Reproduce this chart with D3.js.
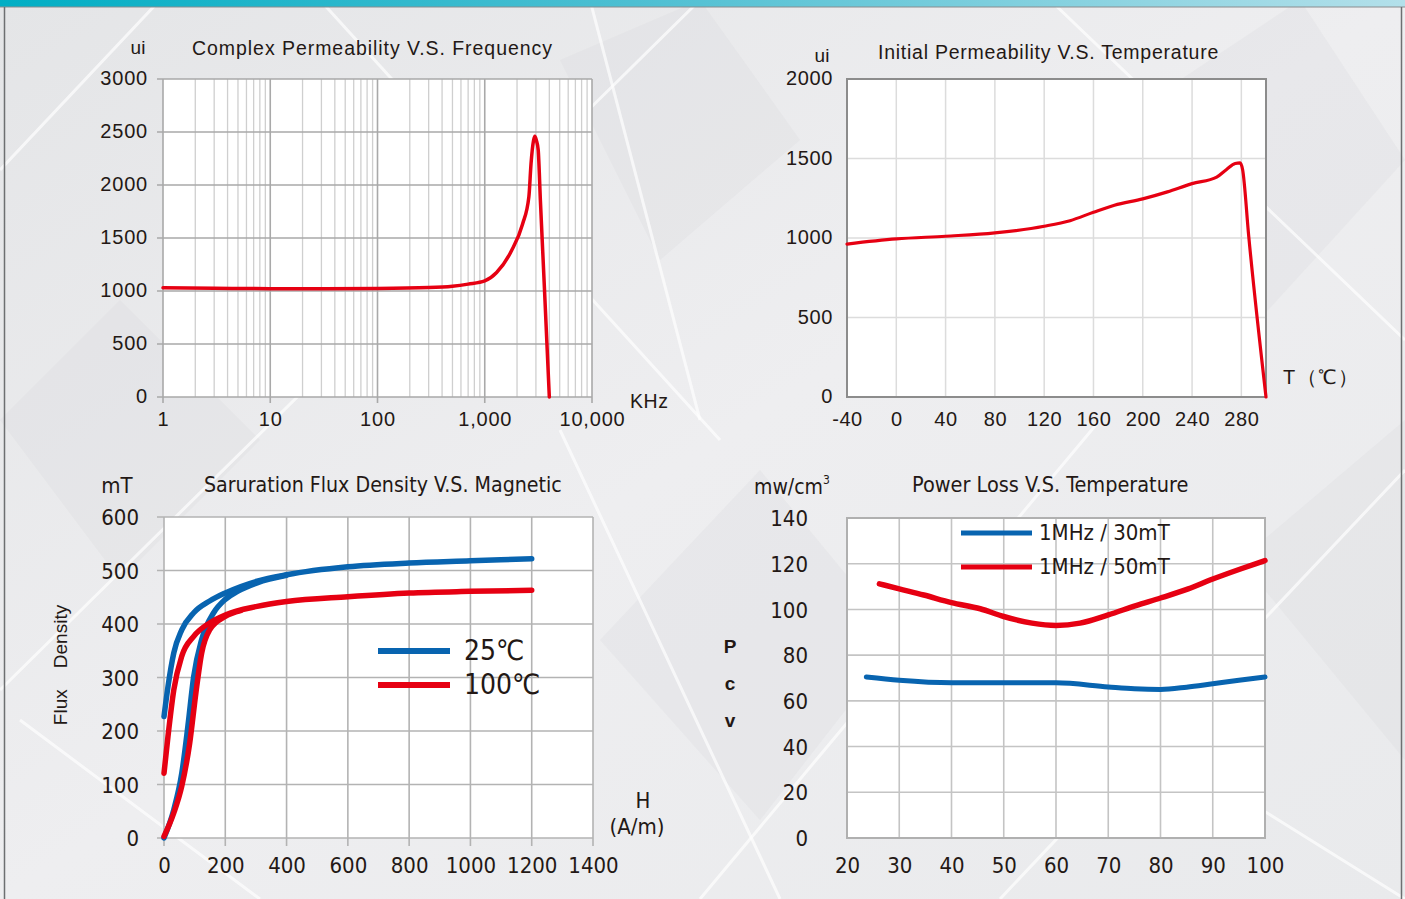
<!DOCTYPE html>
<html>

<head>
    <title>Ferrite Material Curves</title>
    <script src="https://d3js.org/d3.v7.min.js"></script>
    <style>
        body {
            margin: 0;
            background: #e9eaec;
        }

        .wide {
            font-family: "Liberation Sans", Arial, sans-serif;
            fill: #231815;
        }

        .narrow {
            font-family: "Liberation Sans Narrow", "Arial Narrow", "DejaVu Sans Condensed", sans-serif;
            fill: #231815;
        }

        .line {
            fill: none;
            stroke-linecap: round;
            stroke-linejoin: round;
        }
    </style>
</head>

<body>
    <script>
        var w = 1405;
        var h = 899;

        var red = "#e60012";
        var blue = "#0864b0";

        // Complex permeability vs frequency (KHz)
        var freqKHz = [1, 3, 10, 30, 100, 300, 500, 700, 1000, 1290, 1775, 2250, 2580, 2700, 2850, 2930, 3030, 3150, 3300, 3600, 4000];
        var freqUi = [1030, 1026, 1022, 1022, 1024, 1032, 1045, 1065, 1095, 1174, 1380, 1630, 1890, 2200, 2420, 2460, 2420, 2330, 1860, 1030, 0];
        var freqTicks = [1, 10, 100, 1000, 10000];
        var freqTickLabels = ["1", "10", "100", "1,000", "10,000"];

        // Initial permeability vs temperature
        var tempC = [-40, 0, 40, 80, 120, 141, 160, 177, 200, 220, 240, 260, 268, 275, 279, 281, 286, 300];
        var tempUi = [962, 994, 1011, 1032, 1074, 1109, 1162, 1206, 1246, 1290, 1342, 1383, 1431, 1469, 1473, 1431, 1010, 0];
        var tempTicks = [-40, 0, 40, 80, 120, 160, 200, 240, 280];

        // Saturation flux density vs H (A/m)
        var hUpper = [0, 13, 32, 58, 97, 149, 200, 304, 400, 600, 800, 1000, 1200];
        var b25Upper = [227, 283, 346, 389, 421, 443, 458, 480, 492, 507, 514, 518, 522];
        var b100Upper = [121, 190, 277, 340, 377, 402, 417, 433, 442, 451, 458, 461, 463];
        var h25Lower = [0, 32, 58, 78, 97, 123, 162, 200, 240, 304, 400];
        var b25Lower = [0, 53, 121, 209, 302, 371, 421, 446, 461, 477, 491];
        var h100Lower = [0, 32, 58, 84, 104, 123, 149, 200, 250];
        var b100Lower = [3, 47, 97, 178, 271, 346, 389, 414, 425];

        // Power loss vs temperature
        var plTemp30 = [23.7, 30, 40, 50, 60, 70, 75, 80, 85, 90, 95, 100];
        var pl30 = [70.4, 69, 67.9, 67.9, 67.9, 66.1, 65.3, 65, 66, 67.5, 69, 70.4];
        var plTemp50 = [26.2, 30, 34.7, 40, 45.5, 50, 55.4, 60, 64.6, 70, 75.3, 80, 85.3, 90, 95.3, 100];
        var pl50 = [111.2, 109, 106.3, 103, 100.3, 96.9, 94, 93, 94, 97.6, 101.7, 105, 109, 113.3, 117.7, 121.4];

        function zip(xs, ys) {
            return xs.map(function (x, i) { return { x: x, y: ys[i] }; });
        }

        var svg = d3.select("body").append("svg")
            .attr("width", w)
            .attr("height", h);

        // ---------- background ----------
        var defs = svg.append("defs");
        var bg = defs.append("linearGradient").attr("id", "bg")
            .attr("x1", 0).attr("y1", 0).attr("x2", 1).attr("y2", 1);
        bg.append("stop").attr("offset", 0).attr("stop-color", "#e4e5e7");
        bg.append("stop").attr("offset", 0.5).attr("stop-color", "#eeeef0");
        bg.append("stop").attr("offset", 1).attr("stop-color", "#e9eaec");
        var bar = defs.append("linearGradient").attr("id", "bar");
        bar.append("stop").attr("offset", 0).attr("stop-color", "#00aec4");
        bar.append("stop").attr("offset", 0.45).attr("stop-color", "#4dbfd2");
        bar.append("stop").attr("offset", 1).attr("stop-color", "#b3e0ea");

        svg.append("rect").attr("width", w).attr("height", h).attr("fill", "url(#bg)");

        // faint diamond shapes
        var shades = [
            [[0, 420], [120, 300], [260, 440], [120, 580]],
            [[560, 60], [700, 0], [800, 140], [660, 260]],
            [[1120, 120], [1300, 0], [1405, 160], [1250, 330]],
            [[600, 640], [760, 470], [900, 640], [760, 820]],
            [[1240, 560], [1405, 420], [1405, 760]]
        ];
        svg.selectAll(".shade").data(shades).enter().append("polygon")
            .attr("points", function (d) { return d.map(function (p) { return p.join(","); }).join(" "); })
            .attr("fill", "#d6d8db").attr("opacity", 0.25);

        var streaks = [
            [[0, 170], [160, 0]], [[0, 690], [700, 0]], [[320, 0], [720, 440]],
            [[590, 0], [700, 420]], [[20, 720], [260, 899]], [[700, 899], [1100, 420]],
            [[1050, 0], [1405, 340]], [[1405, 470], [1000, 899]], [[1150, 740], [1405, 899]],
            [[560, 430], [780, 899]]
        ];
        svg.selectAll(".streak").data(streaks).enter().append("line")
            .attr("x1", function (d) { return d[0][0]; }).attr("y1", function (d) { return d[0][1]; })
            .attr("x2", function (d) { return d[1][0]; }).attr("y2", function (d) { return d[1][1]; })
            .attr("stroke", "#ffffff").attr("stroke-width", 3).attr("opacity", 0.7);

        svg.append("rect").attr("width", w).attr("height", 7).attr("fill", "url(#bar)");
        svg.append("line").attr("x1", 0).attr("x2", w).attr("y1", 7).attr("y2", 7)
            .attr("stroke", "#8a8c8e").attr("stroke-width", 1);
        svg.append("line").attr("x1", 4.5).attr("x2", 4.5).attr("y1", 7).attr("y2", h)
            .attr("stroke", "#6d6f71").attr("stroke-width", 1.5);
        svg.append("line").attr("x1", 1401.5).attr("x2", 1401.5).attr("y1", 7).attr("y2", h)
            .attr("stroke", "#6d6f71").attr("stroke-width", 1.5);

        function label(g, cls, x, y, txt, size, anchor) {
            return g.append("text").attr("class", cls)
                .attr("x", x).attr("y", y)
                .attr("font-size", size)
                .attr("text-anchor", anchor || "start")
                .attr("dominant-baseline", "middle")
                .text(txt);
        }

        // ---------- chart 1: complex permeability vs frequency ----------
        (function () {
            var g = svg.append("g");
            var x = d3.scaleLog().domain([1, 10000]).range([163, 592]);
            var y = d3.scaleLinear().domain([0, 3000]).range([397, 79]);

            g.append("rect").attr("x", 163).attr("y", 79).attr("width", 429).attr("height", 318).attr("fill", "#fff");

            var minors = [];
            for (var k = 0; k < 4; k++) {
                for (var m = 2; m <= 9; m++) minors.push(m * Math.pow(10, k));
            }
            g.selectAll(".minor").data(minors).enter().append("line")
                .attr("x1", function (d) { return x(d); }).attr("x2", function (d) { return x(d); })
                .attr("y1", 79).attr("y2", 397)
                .attr("stroke", "#cfcfcf").attr("stroke-width", 1.3);
            g.selectAll(".major").data(freqTicks).enter().append("line")
                .attr("x1", function (d) { return x(d); }).attr("x2", function (d) { return x(d); })
                .attr("y1", 79).attr("y2", 403)
                .attr("stroke", "#a9a9a9").attr("stroke-width", 1.6);
            g.selectAll(".hgrid").data(d3.range(0, 3001, 500)).enter().append("line")
                .attr("x1", 157).attr("x2", 592)
                .attr("y1", function (d) { return y(d); }).attr("y2", function (d) { return y(d); })
                .attr("stroke", "#a9a9a9").attr("stroke-width", 1.6);

            var line = d3.line().curve(d3.curveMonotoneX)
                .x(function (d) { return x(d.x); }).y(function (d) { return y(d.y); });
            g.append("path").attr("class", "line").attr("d", line(zip(freqKHz, freqUi)))
                .attr("stroke", red).attr("stroke-width", 3.5);

            g.append("g").attr("transform", "translate(0,419)")
                .call(d3.axisBottom(x).tickValues(freqTicks).tickSize(0)
                    .tickFormat(function (d, i) { return freqTickLabels[i]; }))
                .call(function (a) { a.select(".domain").remove(); })
                .selectAll("text").attr("class", "wide").attr("font-size", 20).attr("letter-spacing", 0.8)
                .attr("dy", "0.35em").attr("y", 0);
            g.append("g").attr("transform", "translate(148,0)")
                .call(d3.axisLeft(y).tickValues(d3.range(0, 3001, 500)).tickSize(0).tickFormat(d3.format("d")))
                .call(function (a) { a.select(".domain").remove(); })
                .selectAll("text").attr("class", "wide").attr("font-size", 20).attr("letter-spacing", 0.8)
                .attr("x", 0).attr("dy", "0.28em");

            label(g, "wide", 138, 49, "ui", 19, "middle");
            label(g, "wide", 192, 50, "Complex Permeability V.S. Frequency", 19.5).attr("letter-spacing", 0.95);
            label(g, "wide", 630, 403, "KHz", 19.5).attr("letter-spacing", 0.6);
        })();

        // ---------- chart 2: initial permeability vs temperature ----------
        (function () {
            var g = svg.append("g");
            var x = d3.scaleLinear().domain([-40, 300]).range([847, 1266]);
            var y = d3.scaleLinear().domain([0, 2000]).range([397, 79]);

            g.append("rect").attr("x", 847).attr("y", 79).attr("width", 419).attr("height", 318).attr("fill", "#fff");
            g.selectAll(".vg").data(tempTicks.slice(1)).enter().append("line")
                .attr("x1", function (d) { return x(d); }).attr("x2", function (d) { return x(d); })
                .attr("y1", 79).attr("y2", 397)
                .attr("stroke", "#dcdcdc").attr("stroke-width", 1.5);
            g.selectAll(".hg").data([500, 1000, 1500]).enter().append("line")
                .attr("x1", 847).attr("x2", 1266)
                .attr("y1", function (d) { return y(d); }).attr("y2", function (d) { return y(d); })
                .attr("stroke", "#dcdcdc").attr("stroke-width", 1.5);
            g.append("rect").attr("x", 847).attr("y", 79).attr("width", 419).attr("height", 318)
                .attr("fill", "none").attr("stroke", "#8c8c8c").attr("stroke-width", 2);

            var line = d3.line().curve(d3.curveMonotoneX)
                .x(function (d) { return x(d.x); }).y(function (d) { return y(d.y); });
            g.append("path").attr("class", "line").attr("d", line(zip(tempC, tempUi)))
                .attr("stroke", red).attr("stroke-width", 3.2);

            g.append("g").attr("transform", "translate(0,419)")
                .call(d3.axisBottom(x).tickValues(tempTicks).tickSize(0).tickFormat(function (d) { return String(d); }))
                .call(function (a) { a.select(".domain").remove(); })
                .selectAll("text").attr("class", "wide").attr("font-size", 20).attr("letter-spacing", 0.6)
                .attr("dy", "0.35em").attr("y", 0);
            g.append("g").attr("transform", "translate(833,0)")
                .call(d3.axisLeft(y).tickValues([0, 500, 1000, 1500, 2000]).tickSize(0).tickFormat(d3.format("d")))
                .call(function (a) { a.select(".domain").remove(); })
                .selectAll("text").attr("class", "wide").attr("font-size", 20).attr("letter-spacing", 0.6)
                .attr("x", 0).attr("dy", "0.28em");

            label(g, "wide", 822, 57, "ui", 19, "middle");
            label(g, "wide", 878, 54, "Initial Permeability V.S. Temperature", 19.5).attr("letter-spacing", 0.75);
            label(g, "wide", 1283, 379, "T（℃）", 20).attr("letter-spacing", 1.5);
        })();

        // ---------- chart 3: saturation flux density ----------
        (function () {
            var g = svg.append("g");
            var x = d3.scaleLinear().domain([0, 1400]).range([164, 593]);
            var y = d3.scaleLinear().domain([0, 600]).range([838, 517]);

            g.append("rect").attr("x", 164).attr("y", 517).attr("width", 429).attr("height", 321).attr("fill", "#fff");
            g.selectAll(".vg").data(d3.range(0, 1401, 200)).enter().append("line")
                .attr("x1", function (d) { return x(d); }).attr("x2", function (d) { return x(d); })
                .attr("y1", 517).attr("y2", 846)
                .attr("stroke", "#b3b3b3").attr("stroke-width", 1.6);
            g.selectAll(".hg").data(d3.range(0, 601, 100)).enter().append("line")
                .attr("x1", 157).attr("x2", 593)
                .attr("y1", function (d) { return y(d); }).attr("y2", function (d) { return y(d); })
                .attr("stroke", "#b3b3b3").attr("stroke-width", 1.6);

            var line = d3.line().curve(d3.curveMonotoneX)
                .x(function (d) { return x(d.x); }).y(function (d) { return y(d.y); });
            [[hUpper, b25Upper, blue], [h25Lower, b25Lower, blue], [hUpper, b100Upper, red], [h100Lower, b100Lower, red]]
                .forEach(function (s) {
                    g.append("path").attr("class", "line").attr("d", line(zip(s[0], s[1])))
                        .attr("stroke", s[2]).attr("stroke-width", 5.5);
                });

            g.append("g").attr("transform", "translate(0,865)")
                .call(d3.axisBottom(x).tickValues(d3.range(0, 1401, 200)).tickSize(0).tickFormat(d3.format("d")))
                .call(function (a) { a.select(".domain").remove(); })
                .selectAll("text").attr("class", "narrow").attr("font-size", 22).attr("dy", "0.35em").attr("y", 0);
            g.append("g").attr("transform", "translate(139,0)")
                .call(d3.axisLeft(y).tickValues(d3.range(0, 601, 100)).tickSize(0))
                .call(function (a) { a.select(".domain").remove(); })
                .selectAll("text").attr("class", "narrow").attr("font-size", 22).attr("x", 0).attr("dy", "0.35em");

            label(g, "narrow", 117, 487, "mT", 22, "middle");
            label(g, "narrow", 204, 486, "Saruration Flux Density V.S. Magnetic", 21.2);
            label(g, "narrow", 643, 802, "H", 22, "middle");
            label(g, "narrow", 637, 828, "(A/m)", 22, "middle");
            g.append("text").attr("class", "wide")
                .attr("font-family", "'Open Sans', 'Noto Sans', sans-serif")
                .attr("transform", "translate(62,665) rotate(-90)")
                .attr("text-anchor", "middle").attr("dominant-baseline", "middle")
                .attr("font-size", 19).attr("xml:space", "preserve")
                .text("Flux    Density");

            var legend = [["25℃", blue, 651], ["100℃", red, 685]];
            legend.forEach(function (d) {
                g.append("line").attr("x1", 378).attr("x2", 450).attr("y1", d[2]).attr("y2", d[2])
                    .attr("stroke", d[1]).attr("stroke-width", 6);
                label(g, "narrow", 464, d[2] + 1, d[0], 28);
            });
        })();

        // ---------- chart 4: power loss vs temperature ----------
        (function () {
            var g = svg.append("g");
            var x = d3.scaleLinear().domain([20, 100]).range([847, 1265]);
            var y = d3.scaleLinear().domain([0, 140]).range([838, 518]);

            g.append("rect").attr("x", 847).attr("y", 518).attr("width", 418).attr("height", 320).attr("fill", "#fff");
            g.selectAll(".vg").data(d3.range(30, 91, 10)).enter().append("line")
                .attr("x1", function (d) { return x(d); }).attr("x2", function (d) { return x(d); })
                .attr("y1", 518).attr("y2", 838)
                .attr("stroke", "#c4c4c4").attr("stroke-width", 1.6);
            g.selectAll(".hg").data(d3.range(20, 121, 20)).enter().append("line")
                .attr("x1", 847).attr("x2", 1265)
                .attr("y1", function (d) { return y(d); }).attr("y2", function (d) { return y(d); })
                .attr("stroke", "#c4c4c4").attr("stroke-width", 1.6);
            g.append("rect").attr("x", 847).attr("y", 518).attr("width", 418).attr("height", 320)
                .attr("fill", "none").attr("stroke", "#b0b0b0").attr("stroke-width", 2);

            var line = d3.line().curve(d3.curveMonotoneX)
                .x(function (d) { return x(d.x); }).y(function (d) { return y(d.y); });
            g.append("path").attr("class", "line").attr("d", line(zip(plTemp30, pl30)))
                .attr("stroke", blue).attr("stroke-width", 5);
            g.append("path").attr("class", "line").attr("d", line(zip(plTemp50, pl50)))
                .attr("stroke", red).attr("stroke-width", 5.5);

            g.append("g").attr("transform", "translate(0,865)")
                .call(d3.axisBottom(x).tickValues(d3.range(20, 101, 10)).tickSize(0))
                .call(function (a) { a.select(".domain").remove(); })
                .selectAll("text").attr("class", "narrow").attr("font-size", 22).attr("dy", "0.35em").attr("y", 0);
            g.append("g").attr("transform", "translate(808,0)")
                .call(d3.axisLeft(y).tickValues(d3.range(0, 141, 20)).tickSize(0))
                .call(function (a) { a.select(".domain").remove(); })
                .selectAll("text").attr("class", "narrow").attr("font-size", 22).attr("x", 0).attr("dy", "0.35em");

            var unit = label(g, "narrow", 754, 488, "mw/cm", 21);
            unit.append("tspan").attr("font-size", 12).attr("dy", -8).text("3");
            label(g, "narrow", 912, 486, "Power Loss V.S. Temperature", 21.5);
            ["P", "c", "v"].forEach(function (c, i) {
                label(g, "wide", 730, 648 + i * 37, c, 19, "middle").attr("font-weight", "bold");
            });

            var legend = [["1MHz / 30mT", blue, 533], ["1MHz / 50mT", red, 567]];
            legend.forEach(function (d) {
                g.append("line").attr("x1", 961).attr("x2", 1032).attr("y1", d[2]).attr("y2", d[2])
                    .attr("stroke", d[1]).attr("stroke-width", 5);
                label(g, "narrow", 1039, d[2] + 1, d[0], 22);
            });
        })();
    </script>
</body>

</html>
